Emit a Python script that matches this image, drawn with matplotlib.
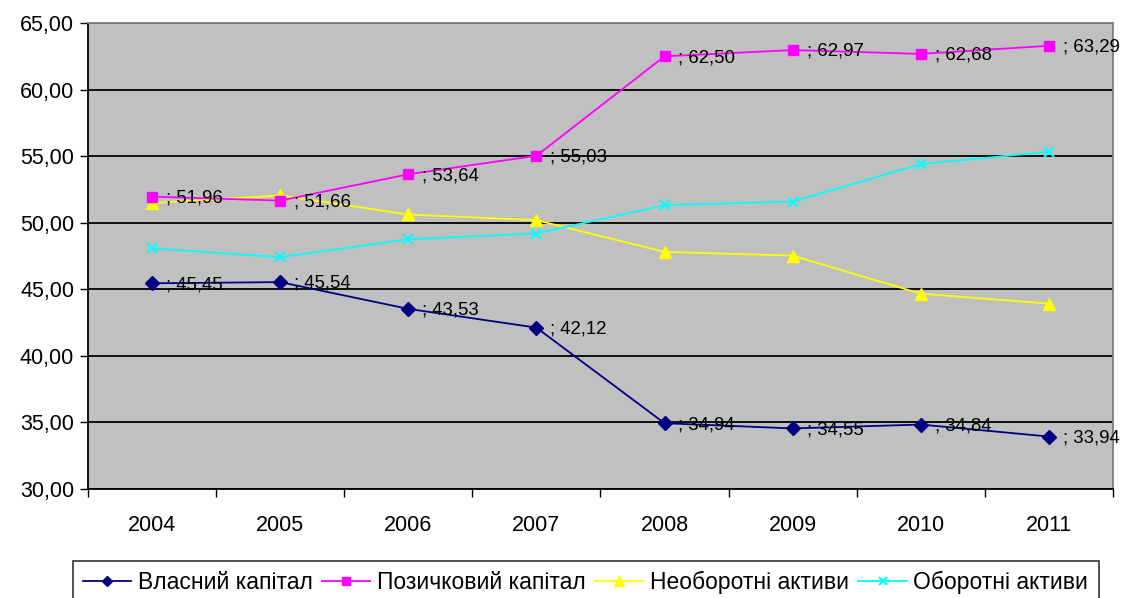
import matplotlib
matplotlib.use("Agg")
import matplotlib.pyplot as plt
from matplotlib.ticker import FixedLocator, NullFormatter

plt.rcParams['font.family'] = ['Liberation Sans', 'DejaVu Sans']

years = ['2004', '2005', '2006', '2007', '2008', '2009', '2010', '2011']
vlasnyi = [45.45, 45.54, 43.53, 42.12, 34.94, 34.55, 34.84, 33.94]
pozychkovyi = [51.96, 51.66, 53.64, 55.03, 62.50, 62.97, 62.68, 63.29]
neoborotni = [51.47, 52.05, 50.62, 50.19, 47.81, 47.53, 44.67, 43.92]
oborotni = [48.08, 47.41, 48.76, 49.19, 51.32, 51.59, 54.40, 55.33]
series_names = ['Власний капітал', 'Позичковий капітал', 'Необоротні активи', 'Оборотні активи']

def fmt(v):
    return f"{v:.2f}".replace('.', ',')

fig = plt.figure(figsize=(11.23, 5.98), dpi=100)
ax = fig.add_axes([0.0784, 0.1823, 0.9126, 0.7792])
ax.set_facecolor('#C0C0C0')

x = list(range(len(years)))
ax.plot(x, vlasnyi, color='#000080', marker='D', markersize=7, lw=1.3, label=series_names[0], zorder=4)
ax.plot(x, pozychkovyi, color='#FF00FF', marker='s', markersize=7.5, lw=1.3, label=series_names[1], zorder=4)
ax.plot(x, neoborotni, color='#FFFF00', marker='^', markersize=9, lw=1.3, label=series_names[2], zorder=3)
ax.plot(x, oborotni, color='#00FFFF', marker='x', markersize=7, mew=1.5, lw=1.3, label=series_names[3], zorder=3)

for xi, v in zip(x, vlasnyi):
    ax.annotate('; ' + fmt(v), (xi, v), xytext=(10, -1), textcoords='offset points',
                va='center', ha='left', fontsize=13.4, zorder=5)
for xi, v in zip(x, pozychkovyi):
    ax.annotate('; ' + fmt(v), (xi, v), xytext=(10, -1), textcoords='offset points',
                va='center', ha='left', fontsize=13.4, zorder=5)

ax.set_xlim(-0.5, len(years) - 0.5)
ax.set_ylim(30, 65)
ax.set_yticks([30, 35, 40, 45, 50, 55, 60, 65])
ax.set_yticklabels([fmt(v) for v in [30, 35, 40, 45, 50, 55, 60, 65]], fontsize=15.5)
ax.yaxis.grid(True, color='black', lw=1.3)
ax.set_axisbelow(True)

ax.set_xticks(x)
ax.set_xticklabels(years, fontsize=15.5)
ax.tick_params(axis='x', which='major', length=0, pad=19)
ax.xaxis.set_minor_locator(FixedLocator([i - 0.5 for i in range(len(years) + 1)]))
ax.xaxis.set_minor_formatter(NullFormatter())
ax.tick_params(axis='x', which='minor', length=6, width=1, color='black')
ax.tick_params(axis='y', length=6, width=1, direction='out', pad=4)

for s in ['left', 'bottom']:
    ax.spines[s].set_color('black')
    ax.spines[s].set_linewidth(1.3)
for s in ['top', 'right']:
    ax.spines[s].set_color('#808080')
    ax.spines[s].set_linewidth(1.3)

leg = fig.legend(loc='upper left', bbox_to_anchor=(73 / 1123, 1 - 561 / 598),
                 ncol=4, fontsize=16.5, frameon=True, fancybox=False, handlelength=2.1,
                 handletextpad=0.3, columnspacing=0.4, borderaxespad=0, borderpad=0.45,
                 markerscale=0.8)
leg.get_frame().set_edgecolor('black')
leg.get_frame().set_linewidth(1.2)

fig.savefig('out.png', dpi=100)
